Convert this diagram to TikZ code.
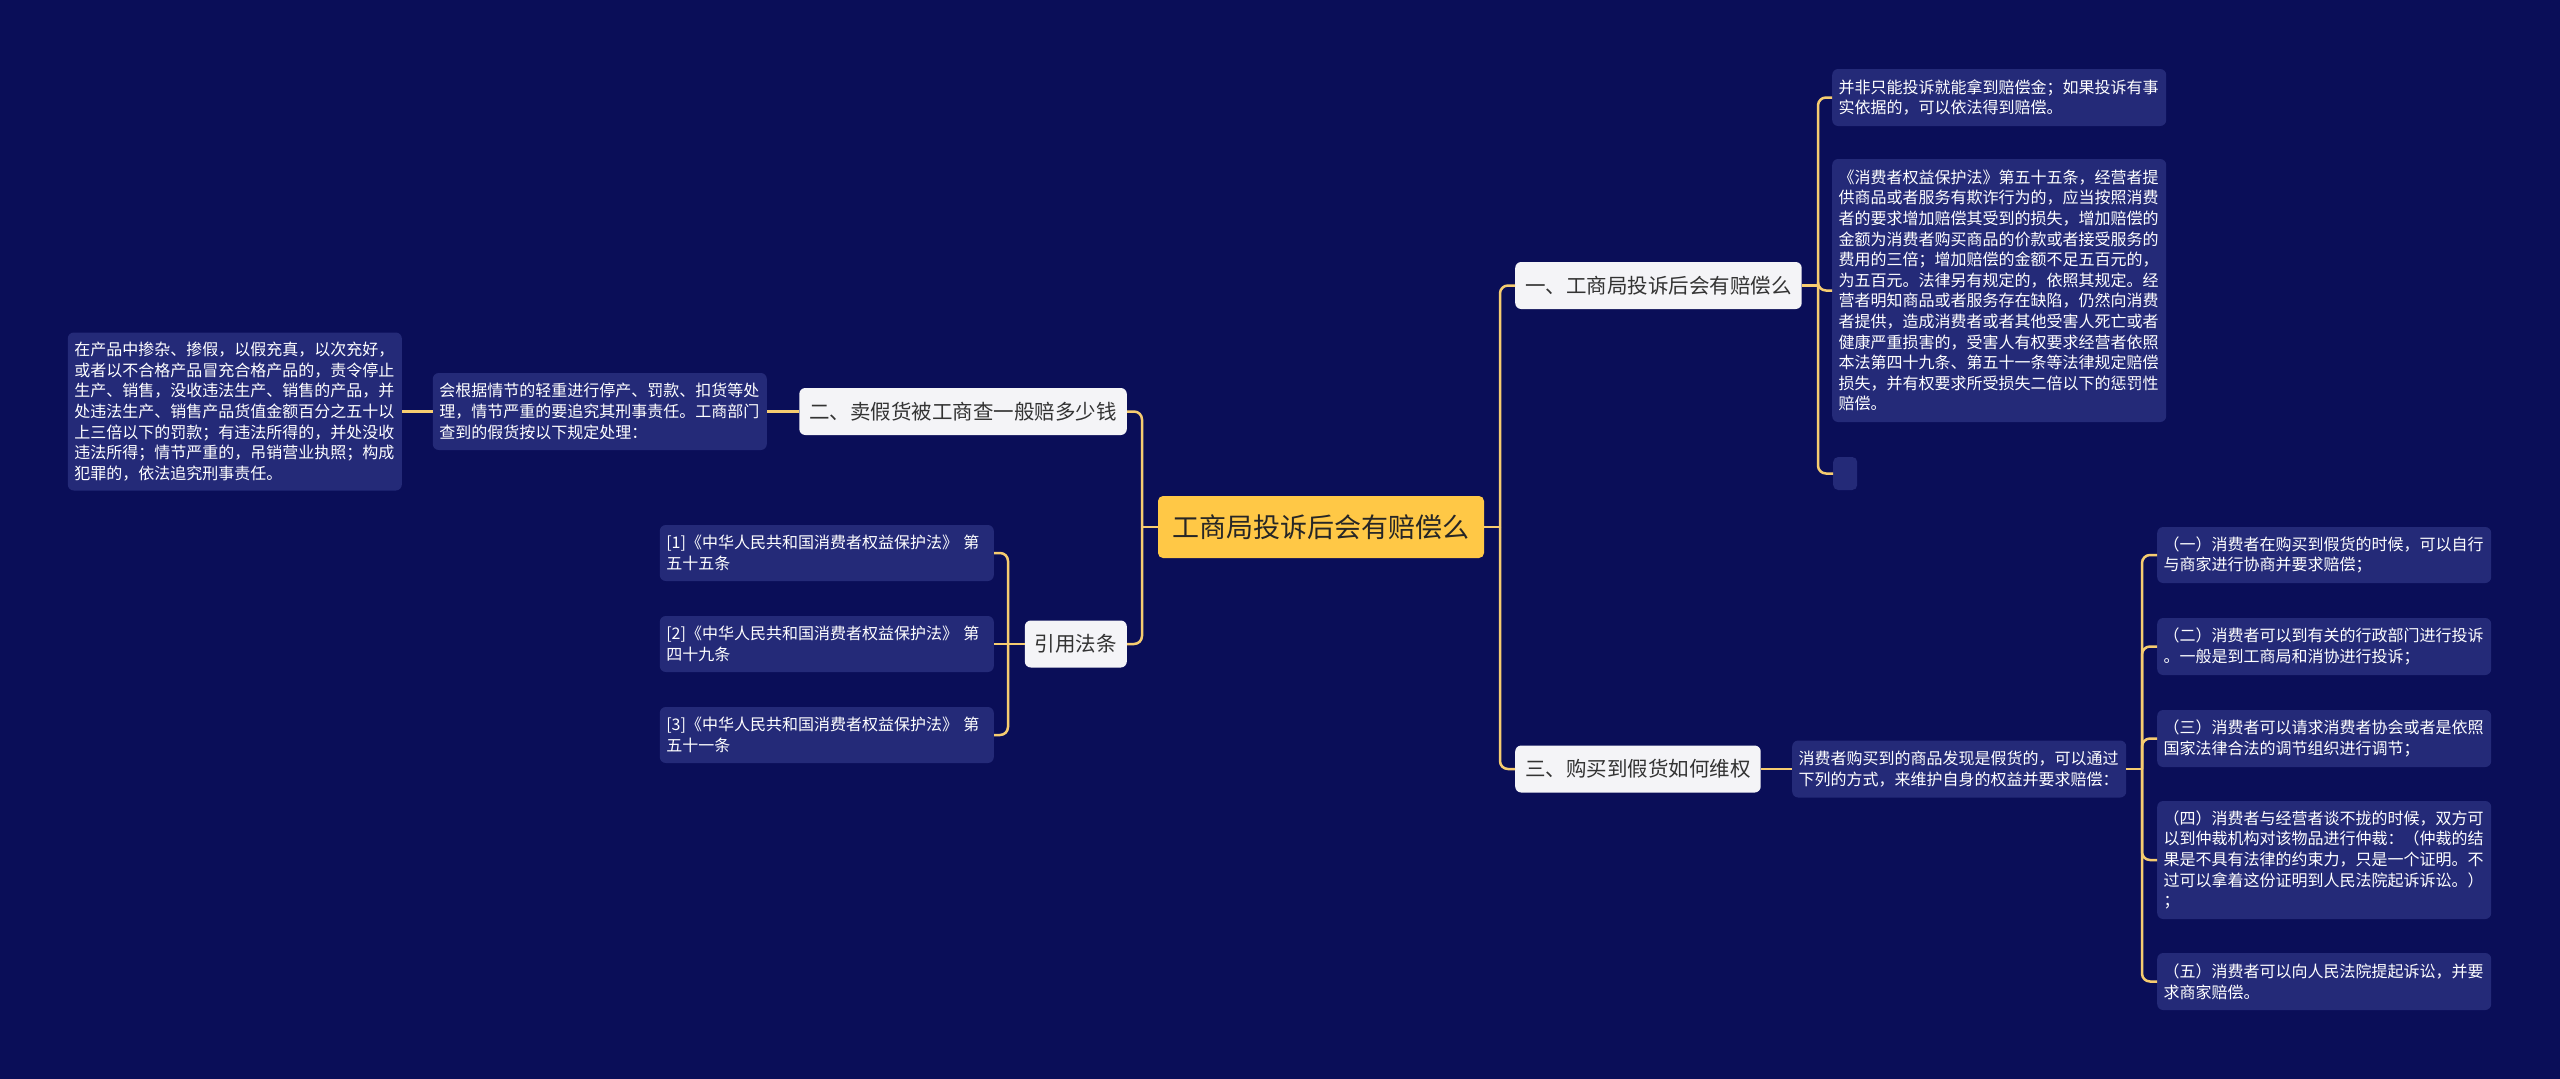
\documentclass[tikz,border=0pt]{standalone}
\usepackage{fontspec}
\setmainfont{Noto Sans CJK SC}

\definecolor{bgblue}{RGB}{10,14,88}
\definecolor{boxblue}{RGB}{36,42,120}
\definecolor{rootyellow}{RGB}{255,200,70}
\definecolor{linkyellow}{RGB}{246,204,112}
\definecolor{topicwhite}{RGB}{244,244,247}

\tikzset{
  root/.style={fill=rootyellow, text=black!85, rounded corners=5pt,
    font=\fontsize{27}{32}\selectfont, minimum width=326pt, minimum height=62pt, inner sep=0pt},
  topic/.style={fill=topicwhite, text=black!80, rounded corners=6pt,
    font=\fontsize{20.5}{24}\selectfont, minimum height=47pt, inner xsep=10pt, inner ysep=0pt},
  leaf/.style={fill=boxblue, text=white, rounded corners=6pt,
    font=\fontsize{16}{20.6}\selectfont, text width=321pt, align=left, inner xsep=6.5pt, inner ysep=0pt},
  blank/.style={fill=boxblue, rounded corners=5pt, minimum width=24pt, minimum height=33pt, inner sep=0pt},
  link/.style={draw=linkyellow, line width=2.5pt, rounded corners=8pt},
}

\begin{document}
\begin{tikzpicture}[x=1pt,y=-1pt]
\fill[bgblue] (0,0) rectangle (2560,1079);
\useasboundingbox (0,0) rectangle (2560,1079);

\node[root] (root) at (1321,527) {工商局投诉后会有赔偿么};

\node[topic, anchor=west] (n1) at (1515,285.5) {一、工商局投诉后会有赔偿么};
\node[topic, anchor=east] (n2) at (1127,411.5) {二、卖假货被工商查一般赔多少钱};
\node[topic, anchor=east] (n4) at (1127,644) {引用法条};
\node[topic, anchor=west] (n3) at (1515,769) {三、购买到假货如何维权};

% 一
\node[leaf, anchor=west, minimum height=57pt] (a1) at (1832,97.5)
  {并非只能投诉就能拿到赔偿金；如果投诉有事\\实依据的，可以依法得到赔偿。};
\node[leaf, anchor=west, minimum height=263pt] (a2) at (1832,290.5)
  {《消费者权益保护法》第五十五条，经营者提\\供商品或者服务有欺诈行为的，应当按照消费\\者的要求增加赔偿其受到的损失，增加赔偿的\\金额为消费者购买商品的价款或者接受服务的\\费用的三倍；增加赔偿的金额不足五百元的，\\为五百元。法律另有规定的，依照其规定。经\\营者明知商品或者服务存在缺陷，仍然向消费\\者提供，造成消费者或者其他受害人死亡或者\\健康严重损害的，受害人有权要求经营者依照\\本法第四十九条、第五十一条等法律规定赔偿\\损失，并有权要求所受损失二倍以下的惩罚性\\赔偿。};
\node[blank, anchor=west] (a3) at (1833,473.5) {};

% 二
\node[leaf, anchor=east, minimum height=77pt] (b1) at (767,411.5)
  {会根据情节的轻重进行停产、罚款、扣货等处\\理，情节严重的要追究其刑事责任。工商部门\\查到的假货按以下规定处理：};
\node[leaf, anchor=east, minimum height=158pt] (c1) at (402,411.5)
  {在产品中掺杂、掺假，以假充真，以次充好，\\或者以不合格产品冒充合格产品的，责令停止\\生产、销售，没收违法生产、销售的产品，并\\处违法生产、销售产品货值金额百分之五十以\\上三倍以下的罚款；有违法所得的，并处没收\\违法所得；情节严重的，吊销营业执照；构成\\犯罪的，依法追究刑事责任。};

% 引用法条
\node[leaf, anchor=east, minimum height=56pt] (l1) at (994,553)
  {[1]《中华人民共和国消费者权益保护法》 第\\五十五条};
\node[leaf, anchor=east, minimum height=56pt] (l2) at (994,644)
  {[2]《中华人民共和国消费者权益保护法》 第\\四十九条};
\node[leaf, anchor=east, minimum height=56pt] (l3) at (994,735)
  {[3]《中华人民共和国消费者权益保护法》 第\\五十一条};

% 三
\node[leaf, anchor=west, minimum height=57pt] (d1) at (1792,769)
  {消费者购买到的商品发现是假货的，可以通过\\下列的方式，来维护自身的权益并要求赔偿：};
\node[leaf, anchor=west, minimum height=56pt] (e1) at (2157,555)
  {（一）消费者在购买到假货的时候，可以自行\\与商家进行协商并要求赔偿；};
\node[leaf, anchor=west, minimum height=57pt] (e2) at (2157,646.5)
  {（二）消费者可以到有关的行政部门进行投诉\\。一般是到工商局和消协进行投诉；};
\node[leaf, anchor=west, minimum height=57pt] (e3) at (2157,738.5)
  {（三）消费者可以请求消费者协会或者是依照\\国家法律合法的调节组织进行调节；};
\node[leaf, anchor=west, minimum height=118pt] (e4) at (2157,860)
  {（四）消费者与经营者谈不拢的时候，双方可\\以到仲裁机构对该物品进行仲裁：（仲裁的结\\果是不具有法律的约束力，只是一个证明。不\\过可以拿着这份证明到人民法院起诉诉讼。）\\；};
\node[leaf, anchor=west, minimum height=57pt] (e5) at (2157,981.5)
  {（五）消费者可以向人民法院提起诉讼，并要\\求商家赔偿。};

% connectors
\coordinate (rootR) at (1500,527);
\coordinate (rootL) at (1142,527);
\coordinate (n1R) at (1818,285.5);
\coordinate (n4L) at (1008,644);
\coordinate (d1R) at (2142,769);

\draw[link] (root.east) -- (rootR);
\foreach \c in {n1,n3} \draw[link] (rootR) |- (\c.west);
\draw[link] (root.west) -- (rootL);
\foreach \c in {n2,n4} \draw[link] (rootL) |- (\c.east);

\draw[link] (n1.east) -- (n1R);
\foreach \c in {a1,a2,a3} \draw[link] (n1R) |- (\c.west);

\draw[link] (n2.west) -- (b1.east);
\draw[link] (b1.west) -- (c1.east);

\draw[link] (n4.west) -- (n4L);
\foreach \c in {l1,l3} \draw[link] (n4L) |- (\c.east);
\draw[link] (n4L) -- (l2.east);

\draw[link] (n3.east) -- (d1.west);
\draw[link] (d1.east) -- (d1R);
\foreach \c in {e1,e2,e3,e4,e5} \draw[link] (d1R) |- (\c.west);
\end{tikzpicture}
\end{document}
